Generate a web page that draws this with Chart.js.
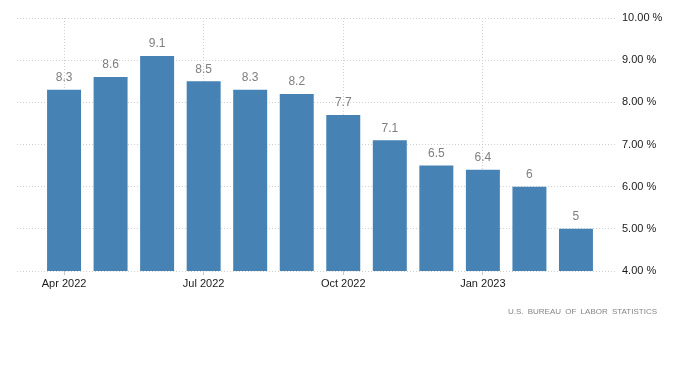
<!DOCTYPE html>
<html>
<head>
<meta charset="utf-8">
<script src="https://cdn.jsdelivr.net/npm/chart.js@4/dist/chart.umd.min.js"></script>
<style>
  html, body { margin: 0; padding: 0; background: #fff; }
  #wrap { position: relative; width: 700px; height: 368px; }
  #source { position: absolute; right: 43px; top: 307px; font: 8px "Liberation Sans", Arial, sans-serif; color: #858585; letter-spacing: 0; word-spacing: 2px; white-space: nowrap; }
</style>
</head>
<body>
<div id="wrap">
  <canvas id="c"></canvas>
  <div id="source">U.S. BUREAU OF LABOR STATISTICS</div>
</div>
<script>
const categories = ['Apr 2022','May 2022','Jun 2022','Jul 2022','Aug 2022','Sep 2022','Oct 2022','Nov 2022','Dec 2022','Jan 2023','Feb 2023','Mar 2023'];
const inflation = [8.3, 8.6, 9.1, 8.5, 8.3, 8.2, 7.7, 7.1, 6.5, 6.4, 6, 5];
const xTickIndexes = [0, 3, 6, 9];
const yTicks = [4, 5, 6, 7, 8, 9, 10];

const points = inflation.map((v, i) => ({ x: i, y: v }));
const FONT = '"Liberation Sans", Arial, sans-serif';

const labelPlugin = {
  id: 'barLabels',
  afterDatasetsDraw(chart) {
    const ctx = chart.ctx;
    const meta = chart.getDatasetMeta(0);
    ctx.save();
    ctx.font = '12px ' + FONT;
    ctx.fillStyle = '#7f7f7f';
    ctx.textAlign = 'center';
    ctx.textBaseline = 'bottom';
    meta.data.forEach((bar, i) => {
      ctx.fillText(String(inflation[i]), bar.x, bar.y - 6);
    });
    ctx.restore();
  }
};

new Chart(document.getElementById('c'), {
  type: 'bar',
  data: {
    datasets: [{
      data: points,
      backgroundColor: '#4682b4',
      borderWidth: 0,
      barPercentage: 0.73,
      categoryPercentage: 1
    }]
  },
  options: {
    responsive: true,
    maintainAspectRatio: false,
    animation: false,
    layout: { padding: { left: 17, top: 18, right: 0, bottom: 0 } },
    plugins: { legend: { display: false }, tooltip: { enabled: false } },
    scales: {
      x: {
        type: 'linear',
        offset: false,
        min: -1.011,
        max: 11.882,
        afterBuildTicks(scale) { scale.ticks = xTickIndexes.map(v => ({ value: v })); },
        afterFit(scale) { scale.height = 97; },
        border: { display: false, dash: [1, 2] },
        grid: { color: '#cfcfcf', offset: false, drawTicks: true, tickLength: 4, tickColor: '#c8c8c8' },
        ticks: {
          autoSkip: false,
          maxRotation: 0,
          padding: 2,
          color: '#1a1a1a',
          font: { family: FONT, size: 11 },
          callback: (v) => categories[v] ?? ''
        }
      },
      y: {
        position: 'right',
        min: 4,
        max: 10,
        afterBuildTicks(scale) { scale.ticks = yTicks.map(v => ({ value: v })); },
        afterFit(scale) { scale.width = 83; },
        border: { display: false, dash: [1, 2] },
        grid: { color: '#cfcfcf', drawTicks: false },
        ticks: {
          padding: 5,
          color: '#1a1a1a',
          font: { family: FONT, size: 11 },
          callback: (v) => v.toFixed(2) + ' %'
        }
      }
    }
  },
  plugins: [labelPlugin]
});
</script>
</body>
</html>
